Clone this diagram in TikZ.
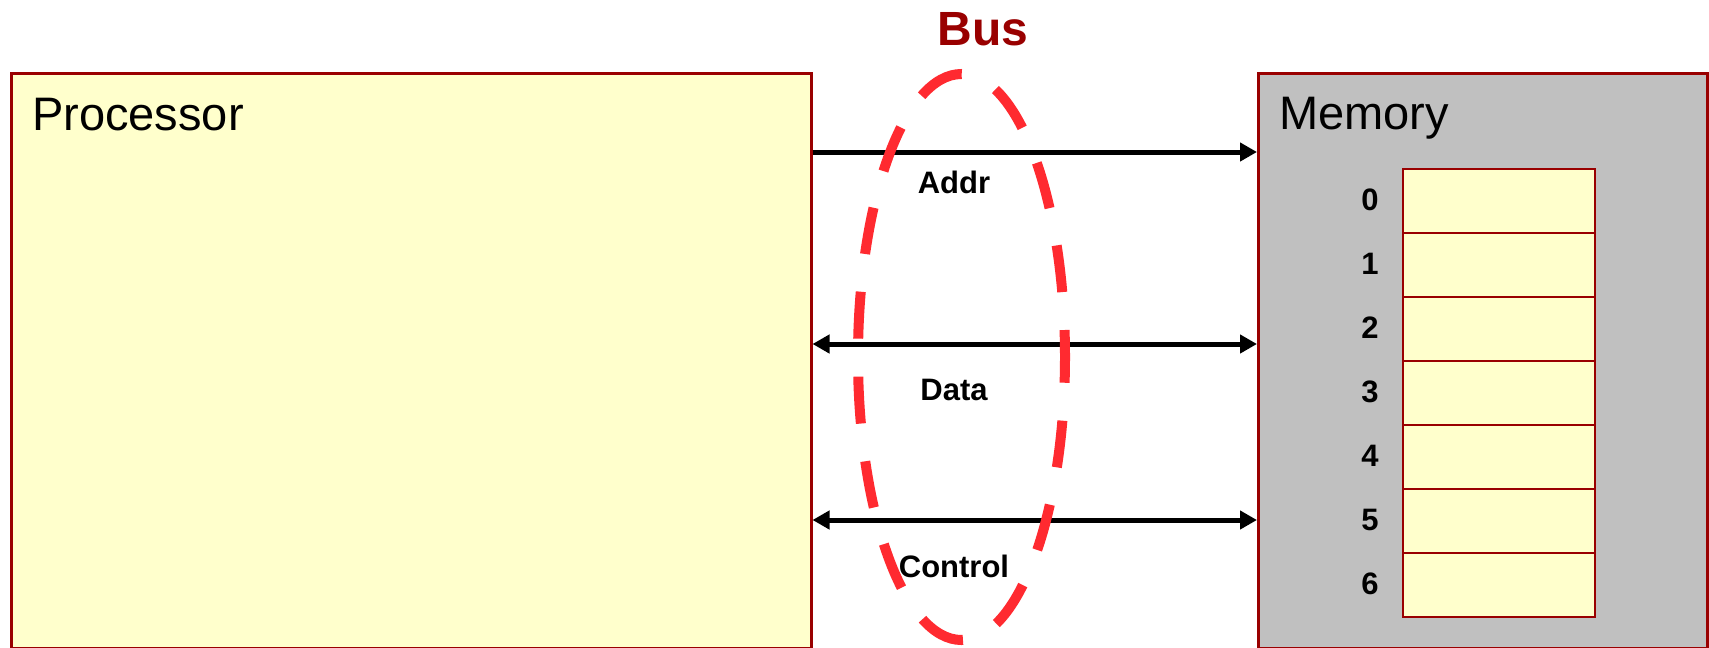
\documentclass[tikz,border=0pt]{standalone}
\usepackage{fontspec}
\setmainfont{Liberation Sans}
\usetikzlibrary{arrows.meta,shapes.geometric}
\definecolor{boxred}{RGB}{153,0,0}
\definecolor{paleyellow}{RGB}{255,255,204}
\definecolor{memgray}{RGB}{192,192,192}
\definecolor{busred}{RGB}{255,42,48}
\tikzset{
  unitbox/.style={draw=boxred, line width=2.5pt, inner sep=0pt, anchor=north west},
  cellbox/.style={draw=boxred, fill=paleyellow, line width=2pt, inner sep=0pt, anchor=north west, minimum width=192pt, minimum height=64pt},
  bigtext/.style={font=\fontsize{47}{50}\selectfont, anchor=base west, inner sep=0pt},
  smalltext/.style={font=\fontsize{31}{34}\selectfont\bfseries, anchor=base, inner sep=0pt},
  numtext/.style={font=\fontsize{31}{34}\selectfont\bfseries, inner sep=0pt},
  busline/.style={line width=5pt, black},
  tipR/.style={-{Triangle[length=17pt,width=18pt]}},
  tipLR/.style={{Triangle[length=17pt,width=18pt]}-{Triangle[length=17pt,width=18pt]}},
  busdash/.style={draw=busred, line width=10pt, dash pattern=on 47pt off 38pt, dash phase=20pt, ellipse, inner sep=0pt}
}
\begin{document}
\begin{tikzpicture}[x=1pt,y=-1pt]
\useasboundingbox (0,0) rectangle (1709,648);
\fill[white] (0,0) rectangle (1709,648);
% Processor
\node[unitbox, fill=paleyellow, minimum width=800pt, minimum height=575pt] (proc) at (10,72) {};
\node[bigtext] (proclabel) at (32,130) {Processor};
% Memory
\node[unitbox, fill=memgray, minimum width=449pt, minimum height=575pt] (mem) at (1257,72) {};
\node[bigtext] (memlabel) at (1279,129) {Memory};
% cells
\foreach \i in {0,...,6} {
  \node[cellbox] (cell\i) at (1402,168+64*\i) {};
  \node[numtext] (num\i) at (1370,200+64*\i) {\i};
}
% bus lines
\path (proc.north east) ++(0,80) coordinate (addrL);
\path (proc.north east) ++(0,272) coordinate (dataL);
\path (proc.north east) ++(0,448) coordinate (ctrlL);
\draw[busline, tipR] (addrL) -- (addrL -| mem.west);
\draw[busline, tipLR] (dataL) -- (dataL -| mem.west);
\draw[busline, tipLR] (ctrlL) -- (ctrlL -| mem.west);
% labels
\node[smalltext] (addr) at (954,193) {Addr};
\node[smalltext] (data) at (954,400) {Data};
\node[smalltext] (ctrl) at (954,577) {Control};
% bus ellipse
\node[busdash, minimum width=207pt, minimum height=566pt] (bus) at (961.5,357) {};
\node[smalltext, font=\fontsize{48}{52}\selectfont\bfseries, text=boxred] (buslabel) at (983,45) {Bus};
\end{tikzpicture}
\end{document}
